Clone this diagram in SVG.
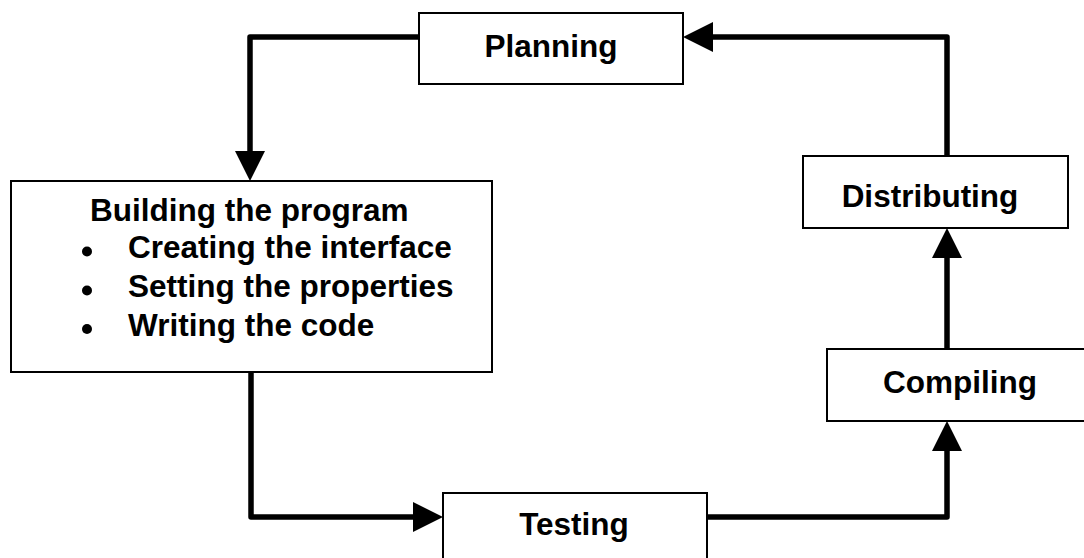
<svg xmlns="http://www.w3.org/2000/svg" width="1084" height="558" viewBox="0 0 1084 558">
  <style>
    .box { fill: #ffffff; stroke: #000000; stroke-width: 2; }
    .label { font-family: "Liberation Sans", Arial, sans-serif; font-weight: bold; font-size: 31.5px; fill: #000000; }
    .mid { text-anchor: middle; }
    .wire { fill: none; stroke: #000000; stroke-width: 5.5; stroke-linecap: round; stroke-linejoin: round; }
    .dot { fill: #000000; }
  </style>
  <defs>
    <marker id="head" viewBox="0 0 30 30" refX="0" refY="15" markerWidth="30" markerHeight="30" markerUnits="userSpaceOnUse" orient="auto">
      <path d="M0,0 L30,15 L0,30 Z" fill="#000000"/>
    </marker>
  </defs>

  <rect width="1084" height="558" fill="#ffffff"/>

  <g id="connectors">
    <path class="wire" d="M419,37 L250,37 L250,151" marker-end="url(#head)"/>
    <path class="wire" d="M251,372 L251,517 L413,517" marker-end="url(#head)"/>
    <path class="wire" d="M707,517 L947,517 L947,451" marker-end="url(#head)"/>
    <path class="wire" d="M947,349 L947,258" marker-end="url(#head)"/>
    <path class="wire" d="M947,156 L947,37 L713,37" marker-end="url(#head)"/>
  </g>

  <g id="planning">
    <rect class="box" x="419" y="13" width="264" height="71"/>
    <text class="label mid" x="551" y="57">Planning</text>
  </g>

  <g id="building">
    <rect class="box" x="11" y="181" width="481" height="191"/>
    <text class="label" x="90" y="221">Building the program</text>
    <circle class="dot" cx="87" cy="251.5" r="5"/>
    <text class="label" x="128" y="258">Creating the interface</text>
    <circle class="dot" cx="87" cy="290.5" r="5"/>
    <text class="label" x="128" y="297">Setting the properties</text>
    <circle class="dot" cx="87" cy="329" r="5"/>
    <text class="label" x="128" y="336">Writing the code</text>
  </g>

  <g id="testing">
    <rect class="box" x="443" y="493" width="264" height="80"/>
    <text class="label mid" x="574" y="535">Testing</text>
  </g>

  <g id="compiling">
    <rect class="box" x="827" y="349" width="270" height="72"/>
    <text class="label mid" x="960" y="393">Compiling</text>
  </g>

  <g id="distributing">
    <rect class="box" x="803" y="156" width="265" height="72"/>
    <text class="label mid" x="930" y="207">Distributing</text>
  </g>
</svg>
